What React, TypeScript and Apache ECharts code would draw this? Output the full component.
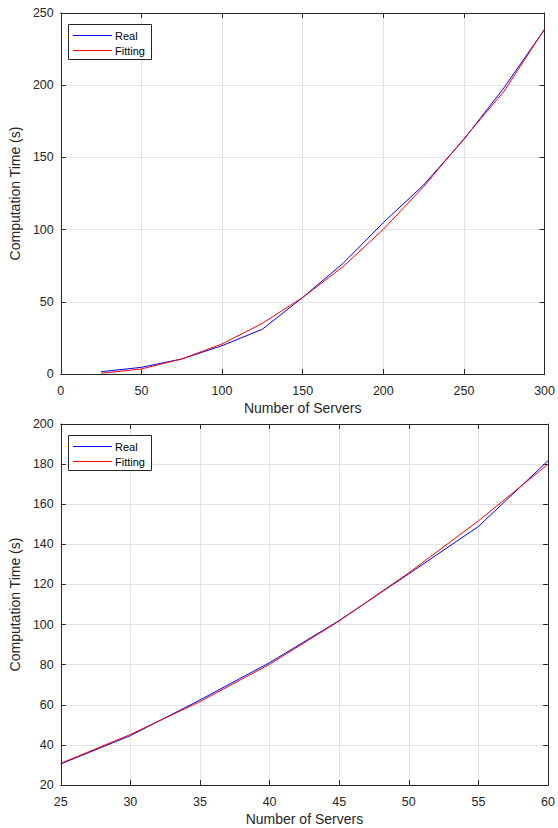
import React, { useEffect, useRef } from "react";
import * as echarts from "echarts";

const topX = [25, 50, 75, 100, 125, 150, 175, 200, 225, 250, 275, 300];
const topReal = [1.6, 4.6, 10.4, 19.6, 31, 53, 76.6, 104.8, 130.9, 162.5, 198.5, 238.7];
const topFit = [0.5, 3.5, 10.4, 20.8, 35.1, 53, 74.3, 100.2, 129.7, 163, 196, 239];

const botX = [25, 30, 35, 40, 45, 50, 55, 60];
const botReal = [30.5, 44.6, 62.4, 81, 102, 125.3, 148.9, 181.7];
const botFit = [30.8, 45.2, 61.6, 80.2, 101.8, 125.8, 151.7, 180];

const seriesNames = ["Real", "Fitting"];
const seriesColors = ["#0000ff", "#ff0000"];
const xName = "Number of Servers";
const yName = "Computation Time (s)";

const FONT = "'Liberation Sans', Arial, sans-serif";
const AX = "#262626";
const GRIDC = "#e3e3e3";

function zip(xs: number[], ys: number[]) {
  return xs.map((x, i) => [x, ys[i]]);
}

function mainX(gridIndex: number, min: number, max: number, interval: number) {
  return {
    type: "value",
    gridIndex,
    position: "bottom",
    min,
    max,
    interval,
    name: xName,
    nameLocation: "middle",
    nameGap: 27,
    nameTextStyle: { fontFamily: FONT, fontSize: 14, color: AX },
    axisLine: { show: true, onZero: false, lineStyle: { color: AX, width: 1 } },
    axisTick: { show: true, inside: true, length: 5, lineStyle: { color: AX } },
    axisLabel: { fontFamily: FONT, fontSize: 12.5, color: AX, margin: 10 },
    splitLine: { show: true, lineStyle: { color: GRIDC, width: 1 } },
  };
}
function sideX(gridIndex: number, min: number, max: number, interval: number) {
  return {
    type: "value",
    gridIndex,
    position: "top",
    min,
    max,
    interval,
    axisLine: { show: true, onZero: false, lineStyle: { color: AX, width: 1 } },
    axisTick: { show: true, inside: true, length: 5, lineStyle: { color: AX } },
    axisLabel: { show: false },
    splitLine: { show: false },
  };
}
function mainY(gridIndex: number, min: number, max: number, interval: number) {
  return {
    type: "value",
    gridIndex,
    position: "left",
    min,
    max,
    interval,
    name: yName,
    nameLocation: "middle",
    nameGap: 31,
    nameTextStyle: { fontFamily: FONT, fontSize: 14, color: AX },
    axisLine: { show: true, onZero: false, lineStyle: { color: AX, width: 1 } },
    axisTick: { show: true, inside: true, length: 5, lineStyle: { color: AX } },
    axisLabel: { fontFamily: FONT, fontSize: 12.5, color: AX, margin: 7 },
    splitLine: { show: true, lineStyle: { color: GRIDC, width: 1 } },
  };
}
function sideY(gridIndex: number, min: number, max: number, interval: number) {
  return {
    type: "value",
    gridIndex,
    position: "right",
    min,
    max,
    interval,
    axisLine: { show: true, onZero: false, lineStyle: { color: AX, width: 1 } },
    axisTick: { show: true, inside: true, length: 5, lineStyle: { color: AX } },
    axisLabel: { show: false },
    splitLine: { show: false },
  };
}

function lineSeries(idx: number, xi: number, yi: number, data: number[][]) {
  const color = seriesColors[idx];
  return {
    type: "line",
    name: seriesNames[idx],
    xAxisIndex: xi,
    yAxisIndex: yi,
    data,
    symbol: "none",
    color,
    lineStyle: { color, width: 1 },
    itemStyle: { color },
    z: idx === 1 ? 3 : 2,
  };
}

function legendGraphic(top: number) {
  const children: any[] = [
    {
      type: "rect",
      z: 100,
      shape: { x: 68.5, y: top + 0.5, width: 83, height: 35 },
      style: { fill: "#fff", stroke: AX, lineWidth: 1 },
    },
  ];
  seriesNames.forEach((n, i) => {
    const cy = top + 11.5 + i * 15;
    children.push({
      type: "line",
      z: 101,
      shape: { x1: 73, y1: cy, x2: 112, y2: cy },
      style: { stroke: seriesColors[i], lineWidth: 1 },
    });
    children.push({
      type: "text",
      z: 101,
      x: 115,
      y: cy,
      style: {
        text: n,
        fill: "#000",
        fontFamily: FONT,
        fontSize: 11,
        verticalAlign: "middle",
        align: "left",
      },
    });
  });
  return { type: "group", z: 100, children };
}

export default function App() {
  const ref = useRef<HTMLDivElement>(null);
  useEffect(() => {
    if (!ref.current) return;
    const chart = echarts.init(ref.current, undefined, { renderer: "svg" });
    chart.setOption({
      animation: false,
      backgroundColor: "#fff",
      grid: [
        { left: 58, top: 13, width: 488, height: 361, containLabel: false },
        { left: 58, top: 424, width: 491, height: 361, containLabel: false },
      ],
      xAxis: [
        mainX(0, 0, 300, 50),
        sideX(0, 0, 300, 50),
        mainX(1, 25, 60, 5),
        sideX(1, 25, 60, 5),
      ],
      yAxis: [
        mainY(0, 0, 250, 50),
        sideY(0, 0, 250, 50),
        mainY(1, 20, 200, 20),
        sideY(1, 20, 200, 20),
      ],
      graphic: [legendGraphic(24), legendGraphic(435)],
      series: [
        lineSeries(0, 0, 0, zip(topX, topReal)),
        lineSeries(1, 0, 0, zip(topX, topFit)),
        lineSeries(0, 2, 2, zip(botX, botReal)),
        lineSeries(1, 2, 2, zip(botX, botFit)),
      ],
    });
    return () => chart.dispose();
  }, []);
  return (
    <div
      ref={ref}
      style={{ position: "fixed", left: 0, top: 0, width: 558, height: 828, background: "#fff" }}
    />
  );
}
